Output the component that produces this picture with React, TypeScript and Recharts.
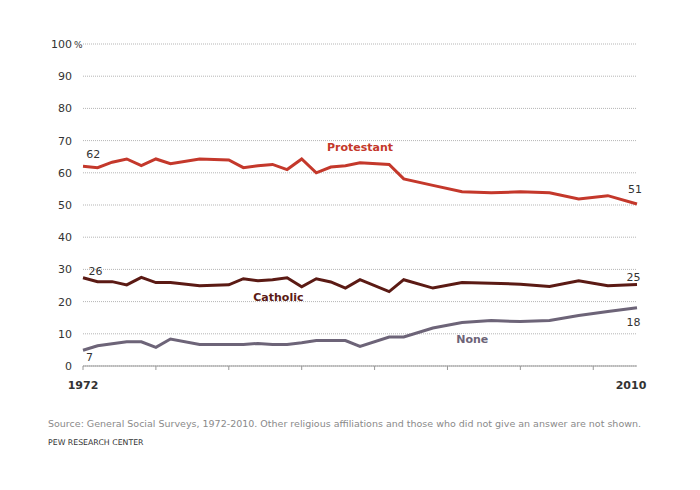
import { LineChart, Line, XAxis, YAxis, CartesianGrid, ReferenceDot } from "recharts";

const years = [1972, 1973, 1974, 1975, 1976, 1977, 1978, 1980, 1982, 1983, 1984, 1985, 1986, 1987, 1988, 1989, 1990, 1991, 1993, 1994, 1996, 1998, 2000, 2002, 2004, 2006, 2008, 2010];
const protestant = [62, 61.6, 63.3, 64.3, 62.2, 64.3, 62.8, 64.3, 64, 61.6, 62.2, 62.6, 61, 64.3, 60, 61.8, 62.2, 63.1, 62.6, 58.1, 56.1, 54.1, 53.8, 54.1, 53.8, 51.9, 52.9, 50.3];
const catholic = [27.4, 26.2, 26.2, 25.2, 27.5, 25.9, 25.9, 24.9, 25.2, 27.1, 26.5, 26.8, 27.4, 24.6, 27.1, 26.1, 24.2, 26.8, 23.1, 26.8, 24.2, 25.9, 25.7, 25.4, 24.7, 26.5, 24.9, 25.3];
const none = [4.9, 6.3, 6.9, 7.5, 7.5, 5.8, 8.4, 6.7, 6.7, 6.7, 7, 6.7, 6.7, 7.2, 7.9, 7.9, 7.9, 6.1, 9, 9, 11.8, 13.5, 14.1, 13.8, 14.1, 15.7, 16.9, 18.1];

const yTicks = [0, 10, 20, 30, 40, 50, 60, 70, 80, 90, 100];
const xTicks = [1972, 1977, 1982, 1987, 1992, 1997, 2002, 2007, 2010];
const xTickLabels = [1972, 2010];

// text annotations placed in data units
const seriesNames = [
  { year: 1991, value: 68, text: "Protestant", color: "#c4382b" },
  { year: 1985.4, value: 21.5, text: "Catholic", color: "#5b1a14" },
  { year: 1998.7, value: 8.5, text: "None", color: "#6d6478" },
];
const endLabels = [
  { year: 1972.7, value: 65.9, text: "62" },
  { year: 1972.86, value: 29.6, text: "26" },
  { year: 1972.45, value: 2.9, text: "7" },
  { year: 2009.86, value: 55, text: "51" },
  { year: 2009.76, value: 27.7, text: "25" },
  { year: 2009.76, value: 13.5, text: "18" },
];

const data = years.map((year, i) => ({
  year,
  protestant: protestant[i],
  catholic: catholic[i],
  none: none[i],
}));

const FONT = "'DejaVu Sans', Verdana, sans-serif";

function XTick(props: any) {
  const { x, y, payload } = props;
  const v = payload.value;
  return (
    <g>
      {v !== 2010 && <line x1={x} x2={x} y1={y} y2={y + 4} stroke="#999" strokeWidth={1} />}
      {xTickLabels.includes(v) && (
        <text x={v === 2010 ? x - 6 : x} y={y + 23} textAnchor="middle" fontFamily={FONT} fontSize={11} fontWeight="bold" fill="#333">
          {v}
        </text>
      )}
    </g>
  );
}

function YTick(props: any) {
  const { x, y, payload } = props;
  return (
    <g>
      <text x={x - 11} y={y} dy={4} textAnchor="end" fontFamily={FONT} fontSize={11} fill="#333">
        {payload.value}
      </text>
      {payload.value === 100 && (
        <text x={x - 9} y={y} dy={4} fontFamily={FONT} fontSize={9} fill="#333">%</text>
      )}
    </g>
  );
}

export default function App() {
  return (
    <div style={{ position: "relative", width: 684, height: 474, background: "#fff" }}>
      <LineChart width={684} height={474} data={data} margin={{ top: 36, right: 55, bottom: 86, left: 0 }}>
        <CartesianGrid horizontal vertical={false} stroke="#b5b5b5" strokeDasharray="1 1" />
        <XAxis
          dataKey="year"
          type="number"
          domain={[1972, 2010]}
          ticks={xTicks}
          height={30}
          tickSize={0}
          tickMargin={0}
          tick={<XTick />}
          axisLine={{ stroke: "#999", strokeWidth: 1 }}
          interval={0}
        />
        <YAxis
          type="number"
          domain={[0, 100]}
          ticks={yTicks}
          width={75}
          tickSize={0}
          tickMargin={0}
          tick={<YTick />}
          axisLine={false}
          tickLine={false}
          interval={0}
        />
        <Line type="linear" dataKey="protestant" stroke="#c4382b" strokeWidth={3} dot={false} isAnimationActive={false} />
        <Line type="linear" dataKey="catholic" stroke="#5b1a14" strokeWidth={3} dot={false} isAnimationActive={false} />
        <Line type="linear" dataKey="none" stroke="#6d6478" strokeWidth={3} dot={false} isAnimationActive={false} />
        {seriesNames.map((s) => (
          <ReferenceDot
            key={s.text}
            x={s.year}
            y={s.value}
            r={0}
            fill="none"
            stroke="none"
            label={{ value: s.text, position: "center", fill: s.color, fontFamily: FONT, fontSize: 11, fontWeight: "bold" }}
          />
        ))}
        {endLabels.map((s, i) => (
          <ReferenceDot
            key={i}
            x={s.year}
            y={s.value}
            r={0}
            fill="none"
            stroke="none"
            label={{ value: s.text, position: "center", fill: "#333", fontFamily: FONT, fontSize: 11 }}
          />
        ))}
      </LineChart>
      <div style={{ position: "absolute", left: 40, top: 410, fontFamily: FONT, fontSize: 9.5, color: "#8a8a8a", whiteSpace: "nowrap" }}>
        Source: General Social Surveys,  1972-2010. Other religious affiliations and those who did not give an answer are not shown.
      </div>
      <div style={{ position: "absolute", left: 40, top: 430, fontFamily: FONT, fontSize: 7.8, color: "#333", whiteSpace: "nowrap" }}>
        PEW RESEARCH CENTER
      </div>
    </div>
  );
}
